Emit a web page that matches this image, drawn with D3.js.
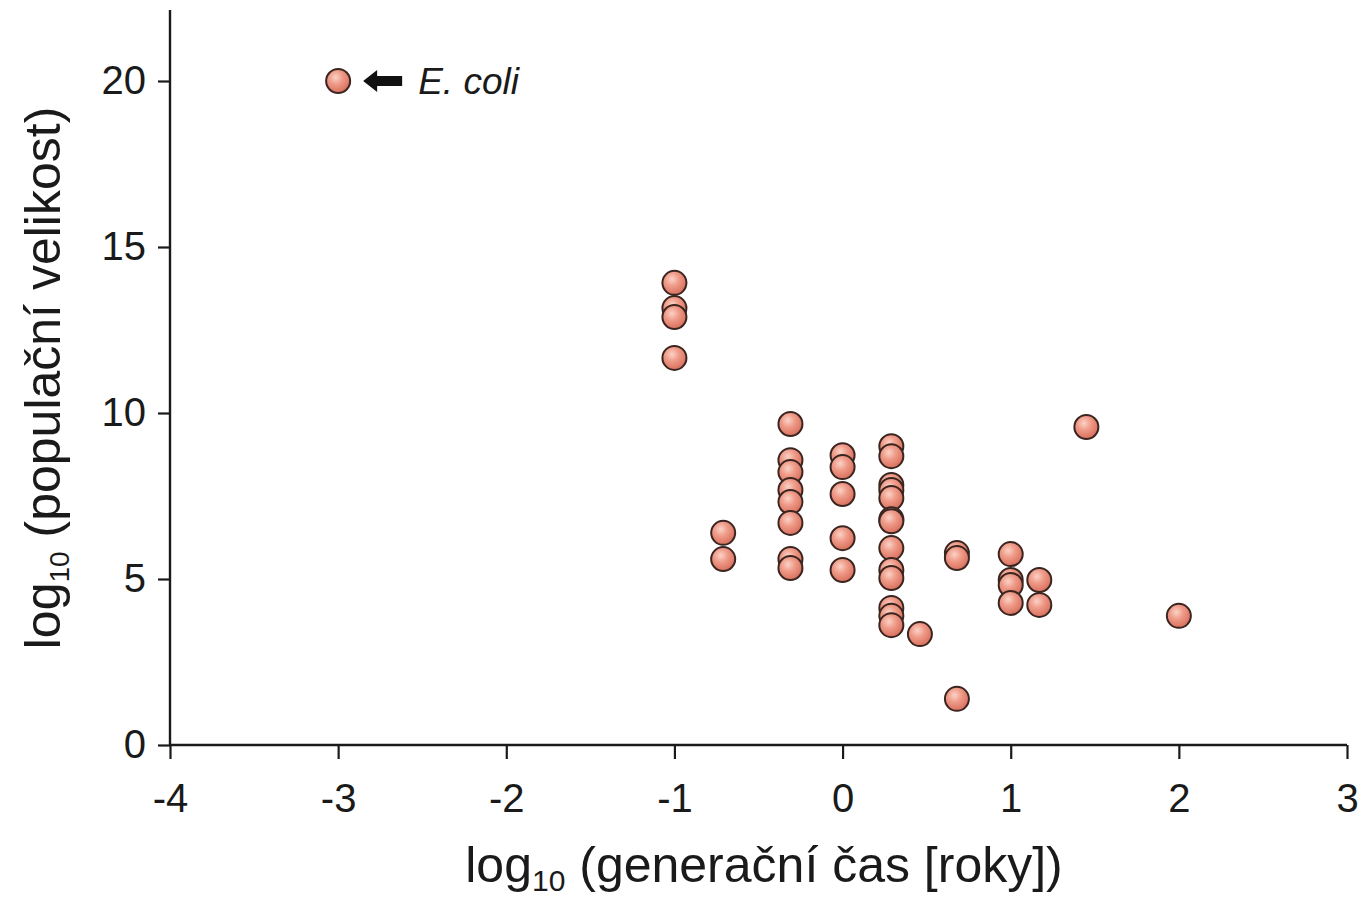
<!DOCTYPE html>
<html>
<head>
<meta charset="utf-8">
<script src="https://cdn.jsdelivr.net/npm/d3@7"></script>
<style>
  body { margin: 0; background: #fff; }
  text { font-family: "Liberation Sans", Arial, sans-serif; fill: #1a1a1a; }
</style>
</head>
<body>
<svg id="chart" width="1363" height="899"></svg>
<script>
// log10 generation time [years]
var genTime = [
  -3,
  -1, -1, -1, -1,
  -0.71, -0.71,
  -0.31, -0.31, -0.31, -0.31, -0.31, -0.31, -0.31, -0.31,
  0, 0, 0, 0, 0,
  0.29, 0.29, 0.29, 0.29, 0.29, 0.29, 0.29, 0.29, 0.29, 0.29, 0.29, 0.29, 0.29,
  0.46,
  0.68, 0.68, 0.68,
  1, 1, 1, 1,
  1.17, 1.17,
  1.45,
  2
];
// log10 population size
var popSize = [
  20,
  13.92, 13.16, 12.89, 11.66,
  6.39, 5.6,
  9.67, 8.58, 8.22, 7.68, 7.32, 6.69, 5.6, 5.33,
  8.73, 8.37, 7.56, 6.23, 5.27,
  9.0, 8.7, 7.83, 7.68, 7.44, 6.8, 6.74, 5.93, 5.27, 5.03, 4.13, 3.89, 3.61,
  3.34,
  5.78, 5.63, 1.39,
  5.75, 4.97, 4.82, 4.28,
  4.97, 4.22,
  9.58,
  3.89
];
var xTicks = [-4, -3, -2, -1, 0, 1, 2, 3];
var yTicks = [0, 5, 10, 15, 20];

var svg = d3.select('#chart');

var x = d3.scaleLinear().domain([-4, 3]).range([170, 1347]);
var y = d3.scaleLinear().domain([0, 20]).range([745, 81]);

// gradient for the balls
var defs = svg.append('defs');
var grad = defs.append('radialGradient').attr('id', 'ball')
    .attr('cx', '0.4').attr('cy', '0.35').attr('r', '0.65');
grad.append('stop').attr('offset', '0%').attr('stop-color', '#fbd2c6');
grad.append('stop').attr('offset', '45%').attr('stop-color', '#ef9a88');
grad.append('stop').attr('offset', '100%').attr('stop-color', '#d9705e');

// axes
var xAxis = svg.append('g').attr('transform', 'translate(0,745)')
    .call(d3.axisBottom(x).tickValues(xTicks).tickSize(14).tickPadding(25).tickFormat(d3.format('d')));
var yAxis = svg.append('g').attr('transform', 'translate(170,0)')
    .call(d3.axisLeft(y).tickValues(yTicks).tickSize(12).tickPadding(12).tickFormat(d3.format('d')));

[xAxis, yAxis].forEach(function(a) {
  a.select('.domain').remove();
  a.selectAll('line').attr('stroke', '#1a1a1a').attr('stroke-width', 2.2);
  a.selectAll('text').style('font-size', '40px').attr('fill', '#1a1a1a');
});
xAxis.selectAll('text').text(function(d) { return d < 0 ? '-' + Math.abs(d) : d; });

svg.append('line').attr('x1', 170).attr('x2', 170).attr('y1', 10).attr('y2', 745)
    .attr('stroke', '#1a1a1a').attr('stroke-width', 2.4);
svg.append('line').attr('x1', 170).attr('x2', 1347).attr('y1', 745).attr('y2', 745)
    .attr('stroke', '#1a1a1a').attr('stroke-width', 2.4);

// axis titles
var xt = svg.append('text').attr('x', 764).attr('y', 882).attr('text-anchor', 'middle')
    .style('font-size', '50px');
xt.append('tspan').text('log');
xt.append('tspan').attr('dy', 9).style('font-size', '30px').text('10');
xt.append('tspan').attr('dy', -9).text(' (generační čas [roky])');

var yt = svg.append('text').attr('transform', 'translate(60,378) rotate(-90)')
    .attr('text-anchor', 'middle').style('font-size', '50px');
yt.append('tspan').text('log');
yt.append('tspan').attr('dy', 9).style('font-size', '28px').text('10');
yt.append('tspan').attr('dy', -9).text(' (populační velikost)');

// points
svg.append('g').selectAll('circle')
    .data(genTime.map(function(g, i) { return [g, popSize[i]]; }))
    .enter().append('circle')
    .attr('cx', function(d) { return x(d[0]); })
    .attr('cy', function(d) { return y(d[1]); })
    .attr('r', 12)
    .attr('fill', 'url(#ball)')
    .attr('stroke', '#3a2520')
    .attr('stroke-width', 2);

// E. coli annotation
var ax = x(-3), ay = y(20);
svg.append('path')
    .attr('d', 'M' + (ax + 25) + ',' + ay + ' l14,-11 v6 h25 v10 h-25 v6 z')
    .attr('fill', '#111');
svg.append('text').attr('x', ax + 80).attr('y', ay + 13)
    .style('font-size', '37px').style('font-style', 'italic').text('E. coli');
</script>
</body>
</html>
